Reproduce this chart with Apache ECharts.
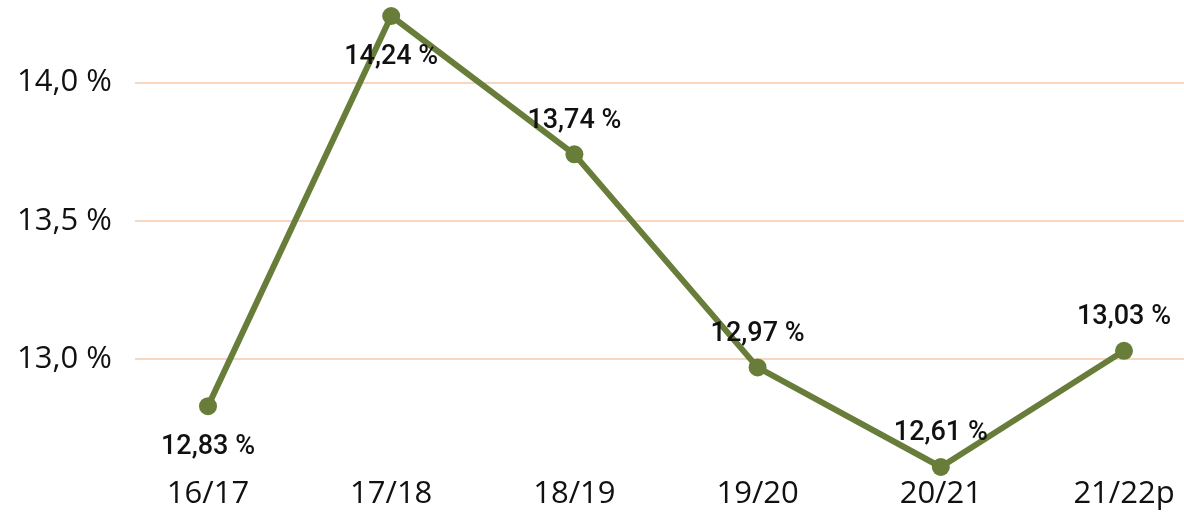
<!DOCTYPE html>
<html>
<head>
<meta charset="utf-8">
<script src="https://cdn.jsdelivr.net/npm/echarts@6/dist/echarts.min.js"></script>
<style>
  html, body { margin: 0; padding: 0; background: #fff; }
  #chart { width: 1184px; height: 513px; }
</style>
</head>
<body>
<div id="chart"></div>
<script>
const years = ['16/17', '17/18', '18/19', '19/20', '20/21', '21/22p'];
const shares = [12.83, 14.24, 13.74, 12.97, 12.61, 13.03];
const yMin = 12.61;
const yMax = 14.24;

const fmt = (v, d) => v.toFixed(d).replace('.', ',') + ' %';

// labels under the point for the first two years
const below = ['16/17', '17/18'];

const chart = echarts.init(document.getElementById('chart'), null, { renderer: 'canvas' });

const axisFont = { fontFamily: 'Open Sans', fontSize: 31, color: '#111' };

chart.setOption({
  animation: false,
  grid: [
    { left: 135, right: 0, top: 16, bottom: 46 },
    // points sit on the edges of this one
    { left: 208, right: 60, top: 16, bottom: 46 }
  ],
  xAxis: [
    { gridIndex: 0, type: 'category', data: years, show: false },
    {
      gridIndex: 1,
      type: 'category',
      data: years,
      boundaryGap: false,
      axisLine: { show: false },
      axisTick: { show: false },
      axisLabel: Object.assign({ margin: 12 }, axisFont)
    }
  ],
  yAxis: [
    {
      gridIndex: 0,
      type: 'value',
      min: yMin,
      max: yMax,
      splitNumber: 3,
      axisLine: { show: false },
      axisTick: { show: false },
      axisLabel: Object.assign({
        margin: 23,
        showMinLabel: false,
        showMaxLabel: false,
        formatter: v => fmt(v, 1)
      }, axisFont),
      splitLine: {
        showMinLine: false,
        showMaxLine: false,
        lineStyle: { color: '#f7d7c0', width: 2 }
      }
    },
    { gridIndex: 1, type: 'value', min: yMin, max: yMax, show: false }
  ],
  series: [{
    type: 'line',
    xAxisIndex: 1,
    yAxisIndex: 1,
    clip: false,
    data: shares.map((v, i) => ({
      value: v,
      label: below.includes(years[i]) ? { position: 'bottom', distance: 19 } : {}
    })),
    symbol: 'circle',
    symbolSize: 18,
    lineStyle: { color: '#687d39', width: 6 },
    itemStyle: { color: '#687d39' },
    label: {
      show: true,
      position: 'top',
      distance: 11,
      fontFamily: 'Roboto',
      fontWeight: 500,
      fontSize: 27,
      color: '#111',
      formatter: p => fmt(p.value, 2)
    }
  }]
});
</script>
</body>
</html>
